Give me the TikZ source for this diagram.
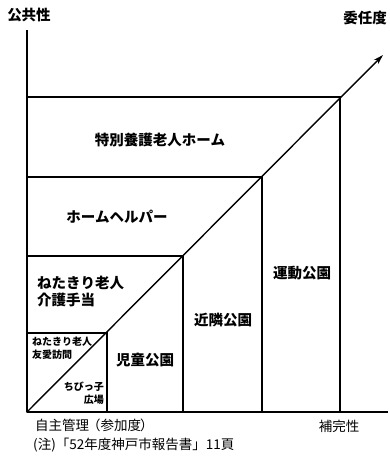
\documentclass[tikz,border=0pt]{standalone}
\usepackage{fontspec}
\setmainfont{Noto Sans CJK JP}
\usetikzlibrary{arrows.meta}
\begin{document}
\begin{tikzpicture}[x=1pt,y=-1pt,
  ln/.style={line width=1.4pt,line cap=rect},
  axis/.style={line width=1.8pt},
  lbl/.style={inner sep=0pt,font=\fontsize{14.5}{17}\selectfont\bfseries},
  small/.style={inner sep=0pt,font=\fontsize{10}{13}\selectfont\bfseries},
  note/.style={inner sep=0pt,font=\fontsize{13.5}{16}\selectfont}]
\useasboundingbox (0,0) rectangle (389,456);
\coordinate (O) at (27,412);
\coordinate (Ytop) at (27,30);
\coordinate (Xend) at (388,412);
\coordinate (tip) at (383,55);
\coordinate (c1) at (340,97);
\coordinate (c2) at (262,177);
\coordinate (c3) at (183,256);
\coordinate (c4) at (107,333);
% axes
\draw[axis] (O) -- (Ytop);
\draw[axis] (O) -- (Xend);
\draw[ln,-{Stealth[length=10pt,width=6pt]}] (O) -- (tip);
% boxes
\foreach \c in {c1,c2,c3,c4}{
  \draw[ln] (O |- \c) -- (\c) -- (\c |- O);
}
% labels
\node[lbl] (pub) at (29,15) {公共性};
\node[lbl] (del) at (365,18) {委任度};
\node[lbl] (tokubetsu) at (160,140) {特別養護老人ホーム};
\node[lbl] (helper) at (117,217) {ホームヘルパー};
\node[lbl,anchor=north west,align=left] (kaigo) at (37,276) {ねたきり老人\\介護手当};
\node[small,anchor=north west,align=left] (yuai) at (32,337) {ねたきり老人\\友愛訪問};
\node[small,anchor=north east,align=right] (chibikko) at (104,382) {ちびっ子\\広場};
\node[lbl] (jido) at (145,360) {児童公園};
\node[lbl] (kinrin) at (223,320) {近隣公園};
\node[lbl] (undo) at (302,273) {運動公園};
\node[note,anchor=west] (jishu) at (35,425) {自主管理\kern-2pt（参加度\kern-1pt）};
\node[note] (hokan) at (339,426) {補完性};
\node[note,anchor=west] (chu) at (33,445) {(注)「52年度神戸市報告書」11頁};
\end{tikzpicture}
\end{document}
